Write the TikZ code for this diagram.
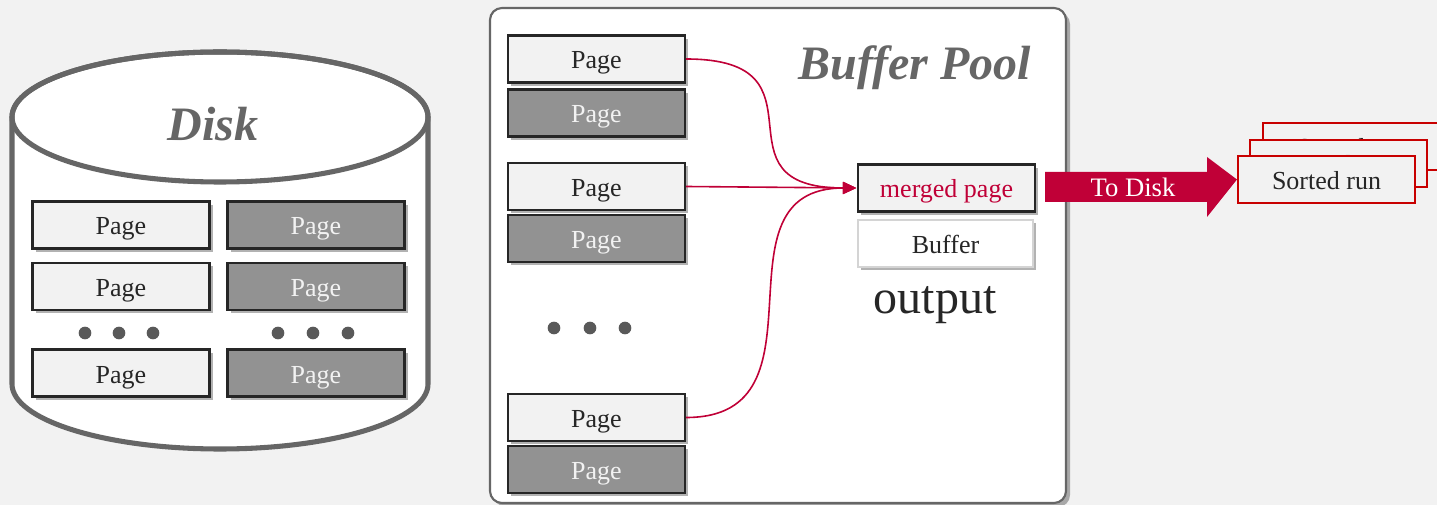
\documentclass[tikz,border=0pt]{standalone}
\usepackage{fontspec}
\setmainfont{Liberation Serif}
\usetikzlibrary{shadows,arrows.meta}
\definecolor{bg}{HTML}{F2F2F2}
\definecolor{lightpage}{HTML}{F2F2F2}
\definecolor{darkpage}{HTML}{929292}
\definecolor{pageborder}{HTML}{262626}
\definecolor{diskgray}{HTML}{666666}
\definecolor{dotgray}{HTML}{595959}
\definecolor{crimson}{HTML}{C00037}
\definecolor{runred}{HTML}{C80000}
\definecolor{bufborder}{HTML}{D4D4D4}
\tikzset{
  softshadow/.style={drop shadow={shadow xshift=2.5pt,shadow yshift=-2.5pt,opacity=0.3,fill=black}},
  smalltext/.style={text height=17pt,text depth=2pt,font=\fontsize{19.5}{22}\selectfont},
  pagebox/.style={draw=pageborder,line width=1.6pt,minimum width=132.75pt,minimum height=35.25pt,
    inner sep=0pt,smalltext,softshadow},
  lightpg/.style={pagebox,fill=lightpage,text=black!85},
  darkpg/.style={pagebox,fill=darkpage,text=bg},
  dotmark/.style={circle,fill=dotgray,minimum size=9.5pt,inner sep=0pt},
  runbox/.style={draw=runred,line width=1.6pt,fill=bg,minimum width=132.75pt,minimum height=35.25pt,
    inner sep=0pt,smalltext,text=black!85},
  link/.style={draw=crimson,line width=1.2pt,-{Triangle[length=10pt,width=9pt]}},
  titletext/.style={font=\fontsize{36}{40}\selectfont\bfseries\itshape,text=diskgray},
}
\begin{document}
\begin{tikzpicture}[x=0.75pt,y=-0.75pt]
\useasboundingbox (0,0) rectangle (1437,505);
\fill[bg] (0,0) rectangle (1437,505);
\clip (0,0) rectangle (1437,505);

% Disk cylinder
\filldraw[fill=white,draw=diskgray,line width=3.8pt]
  (12,117) -- (12,384) arc[start angle=180,end angle=360,x radius=208,y radius=-65] -- (428,117)
  arc[start angle=0,end angle=180,x radius=208,y radius=-65] -- cycle;
\draw[diskgray,line width=3.8pt] (220,117) ellipse[x radius=208,y radius=65];
\node[titletext] (disktitle) at (213,124) {Disk};

\node[lightpg] (d1) at (121,225) {Page};
\node[lightpg] (d2) at (121,286.5) {Page};
\node[lightpg] (d3) at (121,373) {Page};
\node[darkpg] (d4) at (316,225) {Page};
\node[darkpg] (d5) at (316,286.5) {Page};
\node[darkpg] (d6) at (316,373) {Page};
\node[dotmark] (dl1) at (85,333) {};
\node[dotmark] (dl2) at (119,333) {};
\node[dotmark] (dl3) at (153,333) {};
\node[dotmark] (dr1) at (278,333) {};
\node[dotmark] (dr2) at (313,333) {};
\node[dotmark] (dr3) at (348,333) {};

% Buffer pool
\node[draw=diskgray,line width=1.6pt,fill=white,rounded corners=9pt,minimum width=432pt,minimum height=371.25pt,
  inner sep=0pt,drop shadow={shadow xshift=3pt,shadow yshift=-3pt,opacity=0.3,fill=black}] (pool) at (778,255.5) {};
\node[titletext] (pooltitle) at (915,68) {Buffer Pool};

\node[lightpg] (b1) at (596.5,59) {Page};
\node[darkpg] (b2) at (596.5,113) {Page};
\node[lightpg] (b3) at (596.5,186.5) {Page};
\node[darkpg] (b4) at (596.5,238.5) {Page};
\node[lightpg] (b5) at (596.5,417.5) {Page};
\node[darkpg] (b6) at (596.5,469.5) {Page};
\node[dotmark] (bd1) at (554,328) {};
\node[dotmark] (bd2) at (590,328) {};
\node[dotmark] (bd3) at (625,328) {};

\node[lightpg,text=crimson] (merged) at (946.5,188) {merged page};
\node[draw=bufborder,line width=1.2pt,fill=white,minimum width=131.25pt,minimum height=35.25pt,inner sep=0pt,
  smalltext,text=black!85,softshadow] (buffer) at (945.5,243.5) {Buffer};
\node[font=\fontsize{36}{40}\selectfont,text=black!85] (output) at (935,305) {output};

\coordinate (tip) at ([xshift=-0.5pt]merged.west);
\draw[link] (b1.east) .. controls +(150,0) and +(-150,0) .. (tip);
\draw[link] (b3.east) -- (tip);
\draw[link] (b5.east) .. controls +(150,0) and +(-150,0) .. (tip);

% Sorted runs
\node[runbox] (run3) at (1351.5,146.5) {Sorted run};
\node[runbox] (run2) at (1338.5,163.5) {Sorted run};
\node[runbox] (run1) at (1326.5,179.5) {Sorted run};

% To Disk arrow
\fill[crimson] (1045,172) -- (1207,172) -- (1207,157) -- (run1.west) -- (1207,217) -- (1207,202) -- (1045,202) -- cycle;
\node[smalltext,font=\fontsize{20}{22}\selectfont,text=white] (todisk) at (1133,187) {To Disk};
\end{tikzpicture}
\end{document}
